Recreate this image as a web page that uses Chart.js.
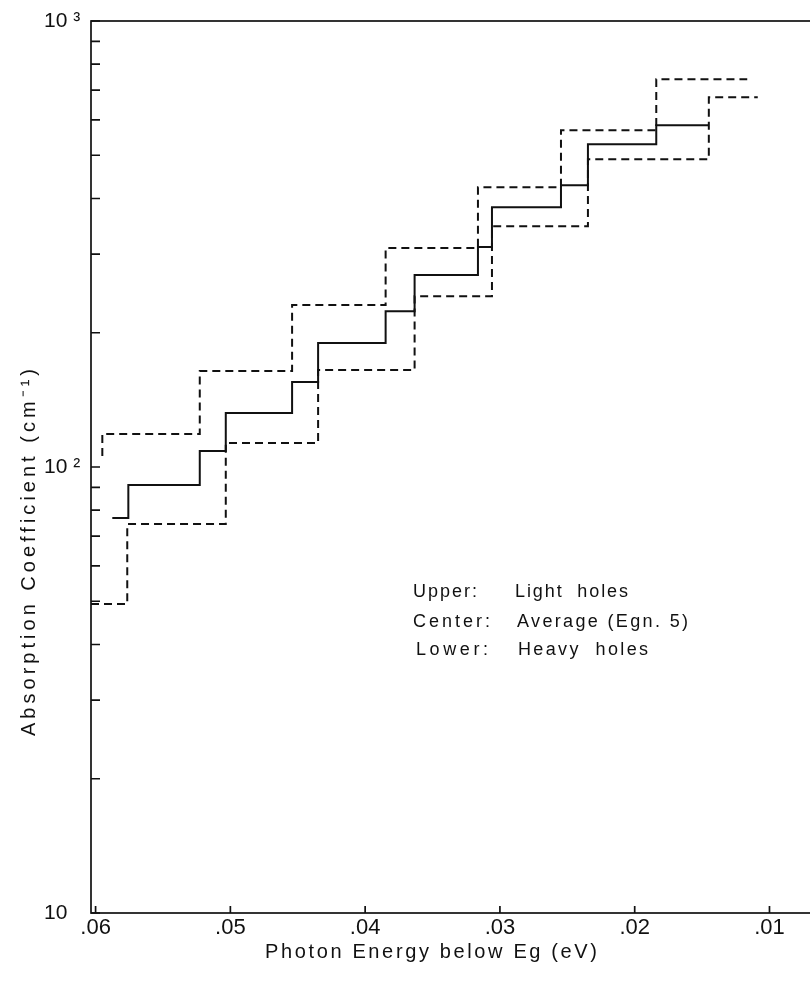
<!DOCTYPE html>
<html>
<head>
<meta charset="utf-8">
<title>Absorption coefficient vs photon energy below Eg</title>
<script src="https://cdn.jsdelivr.net/npm/chart.js@4.4.1/dist/chart.umd.min.js"></script>
<style>
  html, body { margin: 0; padding: 0; background: #fff; overflow: hidden; }
  #wrap { position: relative; width: 830px; height: 983px; }
</style>
</head>
<body>
<div id="wrap"><canvas id="chart"></canvas></div>
<script>
// Step curves: edges in eV below Eg, levels in cm^-1.
// Level i runs from edges[i] to edges[i+1].
const upperStart  = 105.8;
const upperEdges  = [0.05950, 0.05227, 0.04542, 0.03848, 0.03163, 0.02547, 0.01840, 0.01165];
const upperLevels = [118.6, 164.1, 230.7, 309.6, 424.0, 569.0, 740.4];

const centerEdges  = [0.05876, 0.05757, 0.05227, 0.05034, 0.04542, 0.04349, 0.03848,
                      0.03633, 0.03163, 0.03059, 0.02547, 0.02347, 0.01840, 0.01450];
const centerLevels = [76.9, 91.1, 108.6, 132.1, 155.0, 189.6, 223.6,
                      269.3, 311.2, 382.4, 428.5, 529.3, 583.9];

const lowerEdges  = [0.06034, 0.05765, 0.05034, 0.04349, 0.03633, 0.03059, 0.02347, 0.01450, 0.01087];
const lowerLevels = [49.3, 74.5, 113.2, 164.9, 241.6, 346.7, 489.8, 674.8];

const xTickValues = [0.06, 0.05, 0.04, 0.03, 0.02, 0.01];
const xTickLabels = [".06", ".05", ".04", ".03", ".02", ".01"];
const yTickValues = [10, 20, 30, 40, 50, 60, 70, 80, 90,
                     100, 200, 300, 400, 500, 600, 700, 800, 900, 1000];
const yLabelValues = [10, 100, 1000];
const yLabelTexts  = ["10", "10 \u00b2", "10 \u00b3"];

const legendKeys  = ["Upper:", "Center:", "Lower:"];
const legendTexts = ["Light  holes", "Average (Egn. 5)", "Heavy  holes"];

const INK = "#111";
const FONT = "'Liberation Sans', Arial, sans-serif";

// turn edges/levels into points for a step-before line
function stepPoints(edges, levels, start) {
  const pts = [];
  if (start != null) pts.push({ x: edges[0], y: start });
  levels.forEach((lv, i) => pts.push({ x: edges[i], y: lv }));
  pts.push({ x: edges[edges.length - 1], y: levels[levels.length - 1] });
  return pts;
}

// draw text stretched to a given width with letter spacing
function fitText(ctx, text, x, y, width) {
  ctx.letterSpacing = "0px";
  const w = ctx.measureText(text).width;
  const sp = text.length > 1 ? (width - w) / (text.length - 1) : 0;
  ctx.letterSpacing = sp + "px";
  ctx.fillText(text, x, y);
  ctx.letterSpacing = "0px";
}

const framePlugin = {
  id: "frame",
  afterDraw(chart) {
    const { ctx, chartArea: a, scales: { x, y } } = chart;
    ctx.save();
    ctx.strokeStyle = INK;
    ctx.lineWidth = 1.7;
    ctx.strokeRect(a.left, a.top, a.right - a.left, a.bottom - a.top);

    // inward tick marks
    ctx.beginPath();
    x.ticks.forEach((t) => {
      const px = x.getPixelForValue(t.value);
      ctx.moveTo(px, a.bottom);
      ctx.lineTo(px, a.bottom - 7);
    });
    y.ticks.forEach((t) => {
      const py = y.getPixelForValue(t.value);
      ctx.moveTo(a.left, py);
      ctx.lineTo(a.left + 9, py);
    });
    ctx.stroke();

    ctx.fillStyle = INK;
    ctx.textAlign = "left";
    ctx.textBaseline = "alphabetic";

    // axis titles
    ctx.font = "20px " + FONT;
    fitText(ctx, "Photon Energy below Eg (eV)", 265, 958, 332);

    ctx.save();
    ctx.translate(35, 552);
    ctx.rotate(-Math.PI / 2);
    fitText(ctx, "Absorption Coefficient (cm\u207b\u00b9)", -184, 0, 367);
    ctx.restore();

    // in-plot key
    const keyX = [413, 413, 416];
    const txtX = [515, 517, 518];
    const base = [597, 627, 655];
    const keyW = [64, 77, 72];
    const txtW = [113, 171, 130];
    ctx.font = "18px " + FONT;
    legendKeys.forEach((k, i) => {
      fitText(ctx, k, keyX[i], base[i], keyW[i]);
      fitText(ctx, legendTexts[i], txtX[i], base[i], txtW[i]);
    });
    ctx.restore();
  },
};

const lineStyle = { borderColor: INK, borderWidth: 2, pointRadius: 0, showLine: true, stepped: "before", fill: false };

new Chart(document.getElementById("chart"), {
  type: "scatter",
  data: {
    datasets: [
      { label: "Upper: Light holes", data: stepPoints(upperEdges, upperLevels, upperStart), ...lineStyle, borderDash: [8, 5] },
      { label: "Center: Average (Egn. 5)", data: stepPoints(centerEdges, centerLevels), ...lineStyle },
      { label: "Lower: Heavy holes", data: stepPoints(lowerEdges, lowerLevels), ...lineStyle, borderDash: [8, 5] },
    ],
  },
  options: {
    responsive: true,
    maintainAspectRatio: false,
    animation: false,
    layout: { padding: { left: 44, top: 21, right: 12, bottom: 0 } },
    scales: {
      x: {
        type: "linear",
        reverse: true,
        min: 0.0064,
        max: 0.06034,
        afterBuildTicks: (s) => { s.ticks = xTickValues.map((v) => ({ value: v })); },
        afterFit: (s) => { s.height = 70; },
        grid: { display: false, drawTicks: false },
        border: { display: false },
        ticks: {
          color: INK,
          font: { family: FONT, size: 22 },
          padding: 2,
          maxRotation: 0,
          autoSkip: false,
          callback: (v, i) => xTickLabels[i],
        },
      },
      y: {
        type: "logarithmic",
        min: 10,
        max: 1000,
        afterBuildTicks: (s) => { s.ticks = yTickValues.map((v) => ({ value: v })); },
        afterFit: (s) => { s.width = 47; },
        grid: { display: false, drawTicks: false },
        border: { display: false },
        ticks: {
          color: INK,
          font: { family: FONT, size: 21 },
          crossAlign: "far",
          padding: 0,
          autoSkip: false,
          callback: (v) => {
            const i = yLabelValues.indexOf(v);
            return i >= 0 ? yLabelTexts[i] : "";
          },
        },
      },
    },
    plugins: {
      legend: { display: false },
      tooltip: { enabled: false },
    },
  },
  plugins: [framePlugin],
});
</script>
</body>
</html>
